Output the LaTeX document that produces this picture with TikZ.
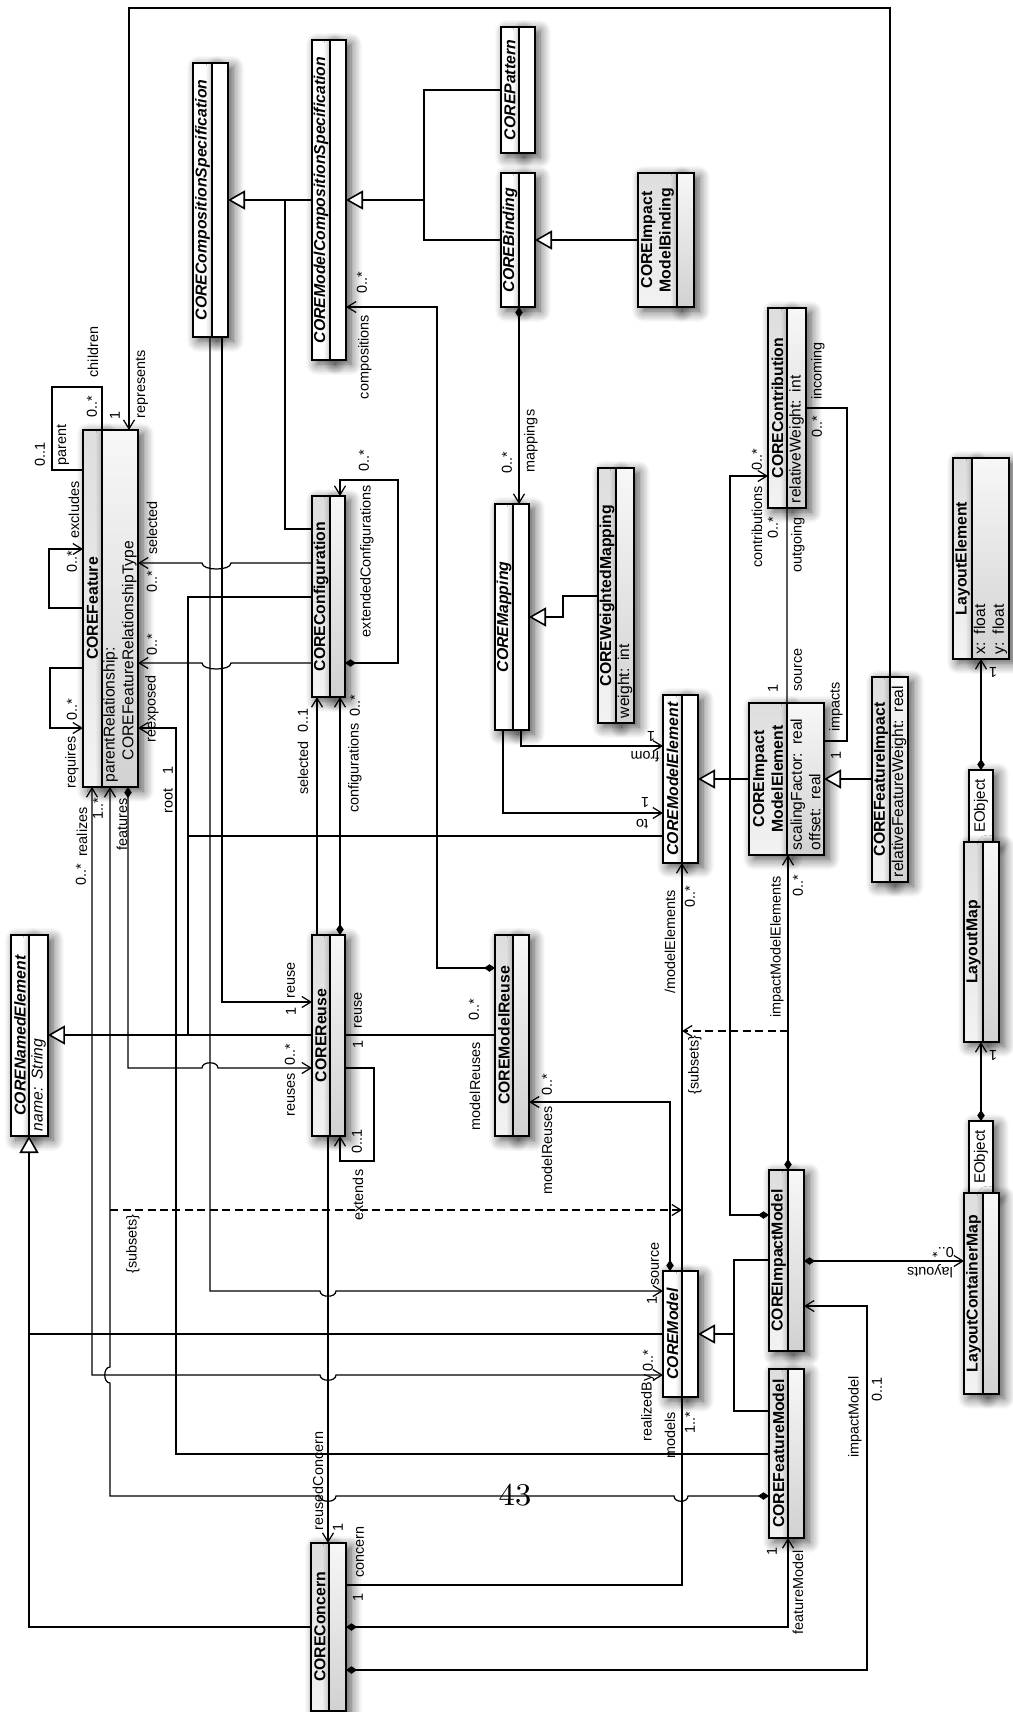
\documentclass[tikz,border=0pt]{standalone}
\usepackage{fontspec}
\newfontfamily\umlfont{Liberation Sans}
\usetikzlibrary{arrows.meta, positioning, shadows.blur}

\begin{document}
\begin{tikzpicture}[
        x=0.1mm, y=-0.1mm,
        % class compartments (the page is turned, so every box is rotated)
        cbox/.style={rectangle, draw=black, line width=0.45pt, rotate=90, outer sep=0pt, inner sep=0pt,
            blur shadow={shadow xshift=0.5mm, shadow yshift=-0.4mm, shadow blur radius=1.1mm, shadow blur steps=8, shadow opacity=70}},
        aname/.style={cbox, fill=white, align=center, font=\umlfont\bfseries\itshape\fontsize{4.5}{5.3}\selectfont},
        gname/.style={cbox, top color=gray!26, bottom color=gray!10, align=center, font=\umlfont\bfseries\fontsize{4.5}{5.3}\selectfont},
        aattr/.style={cbox, fill=white, align=left, font=\umlfont\fontsize{4.45}{5.3}\selectfont},
        gattr/.style={cbox, top color=gray!6, bottom color=gray!36, align=left, font=\umlfont\fontsize{4.45}{5.3}\selectfont},
        eobj/.style={cbox, fill=white, font=\umlfont\fontsize{4.3}{5}\selectfont},
        % role names and multiplicities
        lbl/.style={rotate=90, inner sep=0pt, font=\umlfont\fontsize{4.1}{4.9}\selectfont},
        lblf/.style={rotate=180, inner sep=0pt, font=\umlfont\fontsize{4.1}{4.9}\selectfont},
        % connectors
        assoc/.style={draw, line width=0.35pt},
        nav/.style={assoc, -{Straight Barb[length=0.9mm, width=1.1mm]}},
        bnav/.style={assoc, {Straight Barb[length=0.9mm, width=1.1mm]}-{Straight Barb[length=0.9mm, width=1.1mm]}},
        comp/.style={assoc, {Diamond[length=1.1mm, width=0.75mm]}-{Straight Barb[length=0.9mm, width=1.1mm]}},
        genl/.style={draw, line width=0.45pt},
        gen/.style={genl, -{Triangle[open, fill=white, length=1.7mm, width=1.9mm]}},
        subs/.style={assoc, dash pattern=on 0.8mm off 0.45mm, -{Straight Barb[length=0.9mm, width=1.1mm]}}
    ]
    \useasboundingbox (0,0) rectangle (1013,1712);

    % --- CLASSES ---
    \node[aname, minimum width=27.4mm, minimum height=1.9mm] (ccs) at (202.5,200) {CORECompositionSpecification};
    \node[aattr, minimum width=27.4mm, minimum height=1.6mm, below=0pt of ccs] (ccs-a) {};

    \node[aname, minimum width=32mm, minimum height=1.8mm] (cmcs) at (321,200) {COREModelCompositionSpecification};
    \node[aattr, minimum width=32mm, minimum height=1.6mm, below=0pt of cmcs] (cmcs-a) {};

    \node[aname, minimum width=12.6mm, minimum height=1.8mm] (cpat) at (510,90) {COREPattern};
    \node[aattr, minimum width=12.6mm, minimum height=1.6mm, below=0pt of cpat] (cpat-a) {};

    \node[aname, minimum width=13.4mm, minimum height=1.8mm] (cbind) at (510,240) {COREBinding};
    \node[aattr, minimum width=13.4mm, minimum height=1.6mm, below=0pt of cbind] (cbind-a) {};

    \node[gname, minimum width=13.4mm, minimum height=3.9mm] (cimb) at (657.5,240) {COREImpact\\ModelBinding};
    \node[gattr, minimum width=13.4mm, minimum height=1.7mm, below=0pt of cimb] (cimb-a) {};

    \node[gname, minimum width=20mm, minimum height=1.9mm] (ccontr) at (777.5,408) {COREContribution};
    \node[gattr, minimum width=20mm, minimum height=1.9mm, text width=19mm, inner xsep=0.5mm, below=0pt of ccontr] (ccontr-a) {relativeWeight: int};

    \node[aname, minimum width=20.1mm, minimum height=1.8mm] (cne) at (20,1035.5) {CORENamedElement};
    \node[aattr, minimum width=20.1mm, minimum height=1.9mm, text width=19.1mm, inner xsep=0.5mm, below=0pt of cne] (cne-a) {\itshape name: String};

    \node[gname, minimum width=35.7mm, minimum height=1.9mm] (cfeat) at (92.5,608.5) {COREFeature};
    \node[gattr, minimum width=35.7mm, minimum height=3.6mm, text width=34.7mm, inner xsep=0.5mm, below=0pt of cfeat] (cfeat-a) {parentRelationship:\\\hspace*{2.2mm}COREFeatureRelationshipType};

    \node[gname, minimum width=20.1mm, minimum height=1.8mm] (cconf) at (321,596.5) {COREConfiguration};
    \node[gattr, minimum width=20.1mm, minimum height=1.5mm, below=0pt of cconf] (cconf-a) {};

    \node[gname, minimum width=20.1mm, minimum height=1.8mm] (creuse) at (321,1035.5) {COREReuse};
    \node[gattr, minimum width=20.1mm, minimum height=1.5mm, below=0pt of creuse] (creuse-a) {};

    \node[gname, minimum width=20.1mm, minimum height=1.8mm] (cmreuse) at (504,1035.5) {COREModelReuse};
    \node[gattr, minimum width=20.1mm, minimum height=1.6mm, below=0pt of cmreuse] (cmreuse-a) {};

    \node[aname, minimum width=22.6mm, minimum height=1.8mm] (cmap) at (504,617) {COREMapping};
    \node[aattr, minimum width=22.6mm, minimum height=1.6mm, below=0pt of cmap] (cmap-a) {};

    \node[gname, minimum width=25.5mm, minimum height=1.8mm] (cwmap) at (607,595.5) {COREWeightedMapping};
    \node[gattr, minimum width=25.5mm, minimum height=1.8mm, text width=24.5mm, inner xsep=0.5mm, below=0pt of cwmap] (cwmap-a) {weight: int};

    \node[aname, minimum width=16.8mm, minimum height=1.9mm] (cme) at (672.5,779) {COREModelElement};
    \node[aattr, minimum width=16.8mm, minimum height=1.6mm, below=0pt of cme] (cme-a) {};

    \node[gname, minimum width=15.2mm, minimum height=3.8mm] (cime) at (768,779) {COREImpact\\ModelElement};
    \node[gattr, minimum width=15.2mm, minimum height=3.7mm, text width=14.2mm, inner xsep=0.5mm, below=0pt of cime] (cime-a) {scalingFactor: real\\offset: real};

    \node[gname, minimum width=20.5mm, minimum height=1.8mm] (cfi) at (881,779.5) {COREFeatureImpact};
    \node[gattr, minimum width=20.5mm, minimum height=1.8mm, text width=19.5mm, inner xsep=0.5mm, below=0pt of cfi] (cfi-a) {relativeFeatureWeight: real};

    \node[gname, minimum width=20.1mm, minimum height=1.9mm] (lelem) at (962.5,558.5) {LayoutElement};
    \node[gattr, minimum width=20.1mm, minimum height=3.7mm, text width=19.1mm, inner xsep=0.5mm, below=0pt of lelem] (lelem-a) {x: float\\y: float};

    \node[eobj, minimum width=7.2mm, minimum height=2.4mm] (eo1) at (981,806) {EObject};
    \node[gname, minimum width=20mm, minimum height=1.9mm] (lmap) at (973.5,942) {LayoutMap};
    \node[gattr, minimum width=20mm, minimum height=1.6mm, below=0pt of lmap] (lmap-a) {};

    \node[eobj, minimum width=7.2mm, minimum height=2.4mm] (eo2) at (981,1157) {EObject};
    \node[gname, minimum width=20.1mm, minimum height=1.9mm] (lcmap) at (973.5,1293.5) {LayoutContainerMap};
    \node[gattr, minimum width=20.1mm, minimum height=1.6mm, below=0pt of lcmap] (lcmap-a) {};

    \node[gname, minimum width=18.1mm, minimum height=1.9mm] (cimodel) at (778.5,1260.5) {COREImpactModel};
    \node[gattr, minimum width=18.1mm, minimum height=1.6mm, below=0pt of cimodel] (cimodel-a) {};

    \node[gname, minimum width=16.9mm, minimum height=1.9mm] (cfmodel) at (778.5,1453.5) {COREFeatureModel};
    \node[gattr, minimum width=16.9mm, minimum height=1.6mm, below=0pt of cfmodel] (cfmodel-a) {};

    \node[aname, minimum width=12.6mm, minimum height=1.9mm] (cmodel) at (672.5,1334) {COREModel};
    \node[aattr, minimum width=12.6mm, minimum height=1.6mm, below=0pt of cmodel] (cmodel-a) {};

    \node[gname, minimum width=16.8mm, minimum height=1.8mm] (cconcern) at (320,1627) {COREConcern};
    \node[gattr, minimum width=16.8mm, minimum height=1.7mm, below=0pt of cconcern] (cconcern-a) {};

    % --- GENERALIZATIONS ---
    \coordinate (jccs) at (285,200);
    \coordinate (jmcs) at (424,200);
    \coordinate (jne) at (29,1334);
    \coordinate (jne2) at (188,1035);
    \coordinate (jmod) at (734,1334);
    \draw[gen] (cmcs.north |- jccs) -- (ccs-a.south |- jccs);
    \draw[genl] (cconf.north |- 0,529) -| (jccs);
    \draw[genl] (cpat.north |- 0,90) -| (jmcs);
    \draw[genl] (cbind.north |- 0,240) -| (jmcs);
    \draw[gen] (jmcs) -- (cmcs-a.south |- jmcs);
    \draw[gen] (cimb.north |- 0,240) -- (cbind-a.south |- 0,240);
    \draw[gen] (cwmap.north |- 0,596) -| (563,617) -- (cmap-a.south |- 0,617);
    \draw[gen] (cime.north |- 0,779) -- (cme-a.south |- 0,779);
    \draw[gen] (cfi.north |- 0,779) -- (cime-a.south |- 0,779);
    \draw[genl] (cconcern.north |- 0,1627) -| (jne);
    \draw[genl] (cmodel.north |- jne) -- (jne);
    \draw[gen] (jne) -- (cne-a.west -| jne);
    \draw[genl] (cconf.north |- 0,597) -| (jne2);
    \draw[genl] (cme.north |- 0,836) -| (jne2);
    \draw[gen] (creuse.north |- jne2) -- (cne-a.south |- jne2);
    \draw[genl] (cimodel.north |- 0,1260) -| (jmod);
    \draw[genl] (cfmodel.north |- 0,1411) -| (jmod);
    \draw[gen] (jmod) -- (cmodel-a.south |- jmod);

    % --- ASSOCIATIONS ---
    \draw[nav] (cfi.south east) |- (129,8) -| (cfeat-a.east -| 129,0);
    \draw[assoc] (cfeat.north |- 0,470) -| (52,387) -| (cfeat.south east);
    \draw[nav] (cfeat.north |- 0,668) -| (50,728) -- (cfeat.north |- 0,728);
    \draw[nav] (cfeat.north |- 0,608) -| (49,549) -- (cfeat.north |- 0,549);
    \draw[nav] (cconf.north |- 0,563) -- (231,563) .. controls (231,571) and (202,571) .. (202,563) -- (cfeat-a.south |- 0,563);
    \draw[nav] (cconf.north |- 0,663) -- (231,663) .. controls (231,671) and (202,671) .. (202,663) -- (cfeat-a.south |- 0,663);
    \draw[nav] (cfmodel.north |- 0,1454) -| (176,728) -- (cfeat-a.south |- 0,728);
    \draw[comp] (cfmodel.north |- 0,1496) -- (688,1496) .. controls (688,1503) and (674,1503) .. (674,1496)
        -- (336,1496) .. controls (336,1503) and (320,1503) .. (320,1496)
        -| (110,1383) .. controls (103,1383) and (103,1367) .. (110,1367) -- (cfeat-a.west -| 110,0);
    \draw[bnav] (cmodel.north |- 0,1375) -- (336,1375) .. controls (336,1382) and (320,1382) .. (320,1375) -| (cfeat.west -| 92,0);
    \draw[comp] (cfeat-a.west -| 128,0) |- (202,1068) .. controls (202,1061) and (218,1061) .. (218,1068) -- (creuse.north |- 0,1068);
    \draw[nav] (ccs-a.west -| 222,0) |- (creuse.north |- 0,1002);
    \draw[nav] (ccs.west -| 210,0) |- (320,1291) .. controls (320,1298) and (336,1298) .. (336,1291) -- (cmodel.north |- 0,1291);
    \draw[comp] (cmreuse.north |- 0,968) -| (437,307) -- (cmcs-a.south |- 0,307);
    \draw[comp] (cbind.west -| 519,0) -- (cmap-a.east -| 519,0);
    \draw[nav] (cmap-a.west -| 521,0) |- (cme.north |- 0,746);
    \draw[nav] (cmap.west -| 503,0) |- (cme.north |- 0,813);
    \draw[assoc] (cime.south east) -- (ccontr.south west);
    \draw[assoc] (cime-a.south |- 0,741) -| (847,408) -- (ccontr-a.south |- 0,408);
    \draw[comp] (cimodel.north |- 0,1215) -| (730,476) -- (ccontr.north |- 0,476);
    \draw[comp] (cimodel.south east) -- (cimodel.south east |- cime.south west);
    \draw[nav] (cmodel.south east) -- (cme.south west);
    \coordinate (sub1) at (788,1031);
    \coordinate (sub2) at (110,1210);
    \draw[subs] (sub1) -- (cme.south west |- sub1);
    \draw[subs] (sub2) -- (cmodel.south east |- sub2);
    \draw[comp] (cmodel.east -| 670,0) |- (cmreuse-a.south |- 0,1102);
    \draw[assoc] (creuse-a.south |- 0,1035) -- (cmreuse.north |- 0,1035);
    \draw[comp] (creuse-a.east -| 340,0) -- (cconf-a.west -| 340,0);
    \draw[nav] (creuse.east -| 317,0) -- (cconf.west -| 317,0);
    \draw[comp] (cconf-a.south |- 0,663) -| (398,480) -| (cconf-a.east -| 340,0);
    \draw[nav] (creuse-a.south |- 0,1068) -| (374,1161) -| (creuse-a.west -| 340,0);
    \draw[nav] (creuse.west -| 328,0) -- (cconcern.east -| 328,0);
    \draw[assoc] (cconcern-a.south |- 0,1585) -| (cmodel.south west);
    \draw[comp] (cconcern-a.south |- 0,1627) -| (cfmodel.south west);
    \draw[comp] (cconcern-a.south |- 0,1670) -| (867,1306) -- (cimodel-a.south |- 0,1306);
    \draw[comp] (cimodel-a.south |- 0,1261) -- (lcmap.north |- 0,1261);
    \draw[comp] (eo2.east) -- (eo2.east |- lmap.west);
    \draw[comp] (eo1.east) -- (eo1.east |- lelem.west);

    % --- ROLE NAMES AND MULTIPLICITIES ---
    \node[lbl] (m-par) at (40,454) {0..1};
    \node[lbl] (r-par) at (63,445) {parent};
    \node[lbl] (m-chi) at (92,407) {0..*};
    \node[lbl] (r-chi) at (93,352) {children};
    \node[lbl] (m-rep) at (115,415) {1};
    \node[lbl] (r-rep) at (142,384) {represents};
    \node[lbl] (m-exc) at (72,562) {0..*};
    \node[lbl] (r-exc) at (74,510) {excludes};
    \node[lbl] (m-req) at (72,710) {0..*};
    \node[lbl] (r-req) at (72,762) {requires};
    \node[lbl] (r-sel) at (152,528) {selected};
    \node[lbl] (m-sel) at (152,582) {0..*};
    \node[lbl] (m-rex) at (152,645) {0..*};
    \node[lbl] (r-rex) at (152,709) {reexposed};
    \node[lbl] (m-root) at (168,770) {1};
    \node[lbl] (r-root) at (168,801) {root};
    \node[lbl] (r-rea) at (82,832) {realizes};
    \node[lbl] (m-rea) at (81,875) {0..*};
    \node[lbl] (m-fea) at (98,809) {1..*};
    \node[lbl] (r-fea) at (122,824) {features};
    \node[lbl] (m-csel) at (303,720) {0..1};
    \node[lbl] (r-csel) at (303,768) {selected};
    \node[lbl] (m-cfg) at (355,706) {0..*};
    \node[lbl] (r-cfg) at (355,768) {configurations};
    \node[lbl] (m-ext) at (364,461) {0..*};
    \node[lbl] (r-ext) at (367,561) {extendedConfigurations};
    \node[lbl] (m-com) at (362,283) {0..*};
    \node[lbl] (r-com) at (365,357) {compositions};
    \node[lbl] (m-map) at (507,463) {0..*};
    \node[lbl] (r-map) at (531,441) {mappings};
    \node[lbl] (m-inc) at (817,427) {0..*};
    \node[lbl] (r-inc) at (818,371) {incoming};
    \node[lbl] (m-con) at (757,460) {0..*};
    \node[lbl] (r-con) at (757,527) {contributions};
    \node[lbl] (m-out) at (773,528) {0..*};
    \node[lbl] (r-out) at (798,545) {outgoing};
    \node[lbl] (m-src) at (773,688) {1};
    \node[lbl] (r-src) at (798,670) {source};
    \node[lbl] (r-imp) at (836,707) {impacts};
    \node[lbl] (m-imp) at (836,755) {1};
    \node[lbl] (r-mel) at (670,942) {/modelElements};
    \node[lbl] (m-mel) at (690,897) {0..*};
    \node[lbl] (s-mel) at (695,1065) {\{subsets\}};
    \node[lbl] (r-ime) at (777,947) {impactModelElements};
    \node[lbl] (m-ime) at (798,886) {0..*};
    \node[lbl] (m-reu) at (290,1055) {0..*};
    \node[lbl] (r-reu) at (291,1095) {reuses};
    \node[lbl] (m-cre) at (291,1011) {1};
    \node[lbl] (r-cre) at (291,980) {reuse};
    \node[lbl] (r-mre) at (358,1010) {reuse};
    \node[lbl] (m-mre) at (358,1044) {1};
    \node[lbl] (m-mrs) at (474,1010) {0..*};
    \node[lbl] (r-mrs) at (475,1086) {modelReuses};
    \node[lbl] (m-exs) at (357,1141) {0..1};
    \node[lbl] (r-exs) at (358,1195) {extends};
    \node[lbl] (m-mmr) at (547,1085) {0..*};
    \node[lbl] (r-mmr) at (547,1150) {modelReuses};
    \node[lbl] (s-fea) at (133,1244) {\{subsets\}};
    \node[lbl] (r-msrc) at (655,1264) {source};
    \node[lbl] (m-msrc) at (652,1300) {1};
    \node[lbl] (m-rby) at (648,1361) {0..*};
    \node[lbl] (r-rby) at (648,1408) {realizedBy};
    \node[lbl] (r-mod) at (670,1435) {models};
    \node[lbl] (m-mod) at (690,1423) {1..*};
    \node[lbl] (r-rcn) at (318,1481) {reusedConcern};
    \node[lbl] (m-rcn) at (338,1527) {1};
    \node[lbl] (r-ccn) at (360,1552) {concern};
    \node[lbl] (m-ccn) at (358,1597) {1};
    \node[lbl] (m-fmo) at (772,1551) {1};
    \node[lbl] (r-fmo) at (798,1592) {featureModel};
    \node[lbl] (r-imo) at (855,1417) {impactModel};
    \node[lbl] (m-imo) at (877,1389) {0..1};
    \node[lblf] (r-from) at (645,757) {from};
    \node[lblf] (m-from) at (651,736) {1};
    \node[lblf] (r-to) at (642,824) {to};
    \node[lblf] (m-to) at (645,802) {1};
    \node[lblf] (r-lay) at (930,1271) {layouts};
    \node[lblf] (m-lay) at (943,1252) {0..*};
    \node[lblf] (m-lel) at (993,672) {1};
    \node[lblf] (m-lmp) at (993,1055) {1};

    % page number of the turned page
    \node[font=\fontsize{9}{10}\selectfont, inner sep=0pt] (pgnum) at (515,1495) {43};
\end{tikzpicture}
\end{document}
